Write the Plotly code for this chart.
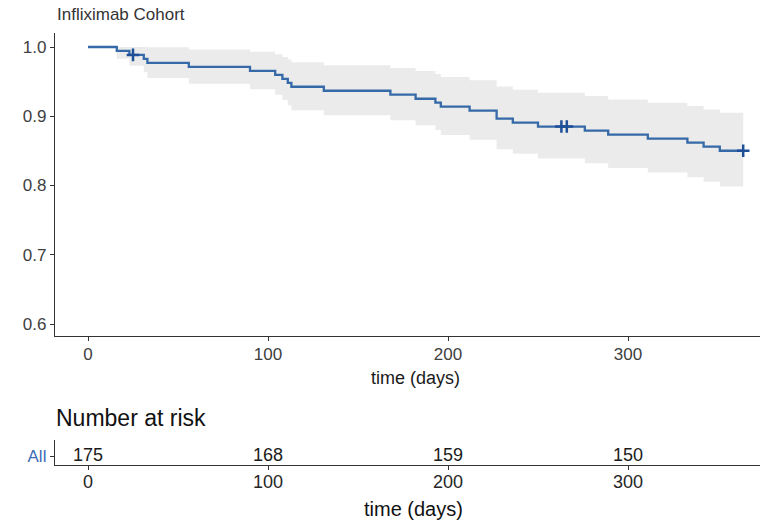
import plotly.graph_objects as go

# Kaplan-Meier estimate for the infliximab cohort (step times in days)
times = [0, 16, 23, 31, 33, 56, 90, 104, 108, 111, 113, 131, 168, 182, 193, 196,
         212, 227, 236, 250, 276, 289, 311, 333, 342, 351, 364]
surv = [1.000, 0.9943, 0.9886, 0.9828, 0.9771, 0.9713, 0.9656, 0.9598, 0.9541,
        0.9483, 0.9426, 0.9368, 0.9311, 0.9253, 0.9196, 0.9138, 0.9081, 0.8966,
        0.8909, 0.8851, 0.8793, 0.8735, 0.8676, 0.8618, 0.8560, 0.8502, 0.8502]
lower = [1.000, 0.9832, 0.9730, 0.9637, 0.9551, 0.9469, 0.9389, 0.9311, 0.9235,
         0.9160, 0.9087, 0.9014, 0.8942, 0.8871, 0.8801, 0.8731, 0.8662, 0.8525,
         0.8457, 0.8390, 0.8322, 0.8254, 0.8187, 0.8120, 0.8053, 0.7987, 0.7987]
upper = [1.000, 1.000, 1.000, 1.000, 0.9995, 0.9964, 0.9930, 0.9894, 0.9857,
         0.9818, 0.9778, 0.9737, 0.9695, 0.9652, 0.9609, 0.9565, 0.9520, 0.9430,
         0.9384, 0.9338, 0.9291, 0.9243, 0.9195, 0.9147, 0.9098, 0.9050, 0.9050]

# censored observations
censor_times = [25, 263, 266, 364]
censor_surv = [0.9886, 0.8851, 0.8851, 0.8502]

# number-at-risk table
risk_times = [0, 100, 200, 300]
n_risk = [175, 168, 159, 150]
strata = ["All"]

y_ticks = [0.6, 0.7, 0.8, 0.9, 1.0]
x_ticks = [0, 100, 200, 300]

W, H = 760, 527
FONT = "Liberation Sans, Arial, sans-serif"
LINE_COL = "#3569A7"
CENSOR_COL = "#1F4F97"
AXIS_COL = "#333333"
TEXT_COL = "#404040"


def fx(px):
    return px / W


def fy(py):
    return 1 - py / H


fig = go.Figure()

# confidence band
fig.add_trace(go.Scatter(x=times, y=lower, mode="lines", line=dict(width=0, shape="hv"),
                         hoverinfo="skip", showlegend=False, xaxis="x", yaxis="y"))
fig.add_trace(go.Scatter(x=times, y=upper, mode="lines", line=dict(width=0, shape="hv"),
                         fill="tonexty", fillcolor="#EBEBEB", hoverinfo="skip",
                         showlegend=False, xaxis="x", yaxis="y"))
# survival curve
fig.add_trace(go.Scatter(x=times, y=surv, mode="lines",
                         line=dict(color=LINE_COL, width=2.3, shape="hv"),
                         showlegend=False, xaxis="x", yaxis="y"))
# censor marks
fig.add_trace(go.Scatter(x=censor_times, y=censor_surv, mode="markers",
                         marker=dict(symbol="cross-thin", size=9,
                                     line=dict(color=CENSOR_COL, width=2.5)),
                         showlegend=False, xaxis="x", yaxis="y"))

# risk table numbers
fig.add_trace(go.Scatter(x=risk_times, y=[0] * len(risk_times), mode="text",
                         text=[str(v) for v in n_risk],
                         textfont=dict(family=FONT, size=18, color="#1A1A1A"),
                         textposition="middle center", showlegend=False,
                         xaxis="x2", yaxis="y2"))

xr = [-33 / 1.8, 672 / 1.8]
ppu = 277 / 0.4
yr = [0.6 - 12 / ppu, 1.0 + 14 / ppu]

axis_common = dict(showline=True, linecolor=AXIS_COL, linewidth=1.3, ticks="outside",
                   ticklen=4, tickwidth=1.1, tickcolor=AXIS_COL, showgrid=False,
                   zeroline=False, fixedrange=True)

fig.update_layout(
    width=W, height=H,
    margin=dict(l=0, r=0, t=0, b=0),
    paper_bgcolor="white", plot_bgcolor="white",
    font=dict(family=FONT, color=TEXT_COL),
    xaxis=dict(domain=[fx(55), 1], range=xr, anchor="y", tickvals=x_ticks,
               ticklabelstandoff=-2,
               tickfont=dict(size=17, color=TEXT_COL), **axis_common),
    yaxis=dict(domain=[fy(336), fy(33)], range=yr, anchor="x", tickvals=y_ticks,
               tickformat=".1f", tickfont=dict(size=17, color=TEXT_COL), **axis_common),
    xaxis2=dict(domain=[fx(55), 1], range=xr, anchor="y2", tickvals=x_ticks,
                ticklabelstandoff=-4,
                tickfont=dict(size=18, color="#262626"), **axis_common),
    yaxis2=dict(domain=[fy(465), fy(440)], range=[-9, 16], anchor="x2", tickvals=[0],
                ticktext=strata, tickfont=dict(size=17, color="#3D6CB5"), **axis_common),
    annotations=[
        dict(text="Infliximab Cohort", x=fx(55), y=fy(15), xref="paper", yref="paper",
             xanchor="left", yanchor="middle", showarrow=False,
             font=dict(size=17, color="#333333")),
        dict(text="time (days)", x=fx(415), y=fy(378), xref="paper", yref="paper",
             xanchor="center", yanchor="middle", showarrow=False,
             font=dict(size=18, color="#1A1A1A")),
        dict(text="Number at risk", x=fx(54), y=fy(418), xref="paper", yref="paper",
             xanchor="left", yanchor="middle", showarrow=False,
             font=dict(size=23, color="#111111")),
        dict(text="time (days)", x=fx(413), y=fy(509), xref="paper", yref="paper",
             xanchor="center", yanchor="middle", showarrow=False,
             font=dict(size=20, color="#111111")),
    ],
)

fig.write_html("out.html")
